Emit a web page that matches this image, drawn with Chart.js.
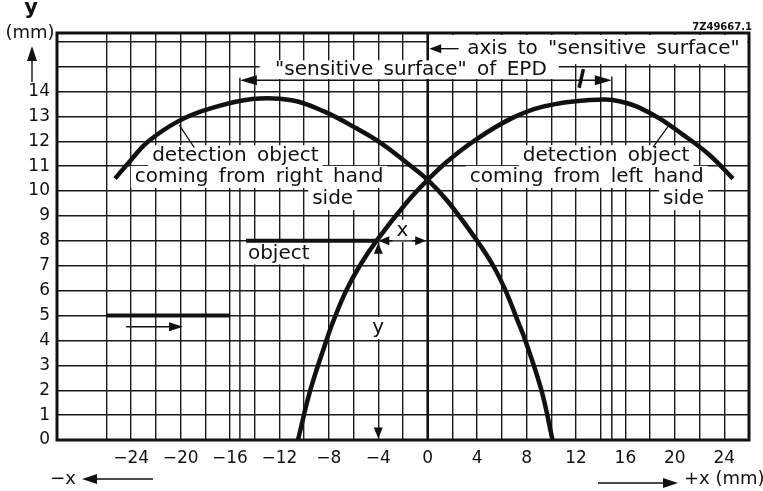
<!DOCTYPE html>
<html>
<head>
<meta charset="utf-8">
<script src="https://cdn.jsdelivr.net/npm/chart.js@4/dist/chart.umd.min.js"></script>
<style>
  html, body { margin: 0; padding: 0; background: #fff; }
  #c { display: block; }
</style>
</head>
<body>
<canvas id="c" width="763" height="491"></canvas>
<script>
// Detection curve for an object coming from the right hand side (x, y in mm)
const fromRightX = [-25.3, -24.1, -22.6, -20.2, -17.7, -14.2, -11.0, -8.4, -5.7, -3.7, -1.6, 0, 1.6, 4.0, 5.3, 6.3, 7.35, 7.9, 9.2, 10.1];
const fromRightY = [10.5, 11.2, 12.0, 12.8, 13.3, 13.7, 13.65, 13.2, 12.5, 11.9, 11.1, 10.45, 9.6, 8.0, 7.0, 6.0, 4.7, 4.0, 2.0, 0];

// Detection curve for an object coming from the left hand side (x, y in mm)
const fromLeftX = [-10.5, -9.5, -8.2, -7.7, -6.6, -5.5, -4.15, -1.6, 0, 1.6, 3.7, 6.7, 9.4, 12.9, 15.6, 18.3, 20.7, 22.8, 24.7];
const fromLeftY = [0, 2.0, 4.0, 4.7, 6.0, 7.0, 8.0, 9.6, 10.45, 11.2, 12.0, 12.9, 13.4, 13.65, 13.6, 13.05, 12.25, 11.45, 10.5];

// Objects (horizontal bars) at their height y
const objectX = [-14.7, -4.15];
const objectY = [8, 8];
const approachX = [-26, -16];
const approachY = [5, 5];

// Extent of the "sensitive surface" of the EPD
const sensitiveSurfaceX = [-15.2, 14.9];

// Axes: grid positions and labelled ticks
const xGridValues = [-26, -24, -22, -20, -18, -16, -14, -12, -10, -8, -6, -4, -2, 0, 2, 4, 6, 8, 10, 12, 14, 16, 18, 20, 22, 24];
const xTickLabels = [-24, -20, -16, -12, -8, -4, 0, 4, 8, 12, 16, 20, 24];
const yGridValues = [0, 1, 2, 3, 4, 5, 6, 7, 8, 9, 10, 11, 12, 13, 14, 15, 16];
const yTickLabels = [0, 1, 2, 3, 4, 5, 6, 7, 8, 9, 10, 11, 12, 13, 14];

const FONT = '"DejaVu Sans", "Liberation Sans", sans-serif';
const INK = '#111';

const pts = (xs, ys) => xs.map((x, i) => ({ x, y: ys[i] }));
const fmtX = v => (v < 0 ? '\u2212' + Math.abs(v) : String(v));

function seg(ctx, x1, y1, x2, y2, w) {
  ctx.beginPath();
  ctx.lineWidth = w;
  ctx.moveTo(x1, y1);
  ctx.lineTo(x2, y2);
  ctx.stroke();
}

function head(ctx, tx, ty, ang, len, half) {
  len = len || 13; half = half || 4.5;
  const c = Math.cos(ang), s = Math.sin(ang);
  ctx.beginPath();
  ctx.moveTo(tx, ty);
  ctx.lineTo(tx - len * c - half * s, ty - len * s + half * c);
  ctx.lineTo(tx - len * c + half * s, ty - len * s - half * c);
  ctx.closePath();
  ctx.fill();
}

function boxedText(ctx, text, x, y, size, align) {
  ctx.font = size + 'px ' + FONT;
  ctx.textBaseline = 'middle';
  ctx.textAlign = align || 'left';
  const w = ctx.measureText(text).width;
  let left = x;
  if (align === 'center') left = x - w / 2;
  ctx.fillStyle = '#fff';
  ctx.fillRect(left - 4, y - size * 0.55, w + 8, size * 1.1);
  ctx.fillStyle = INK;
  ctx.fillText(text, x, y);
}

const annotations = {
  id: 'annotations',
  beforeDatasetsDraw(chart) {
    const { ctx, chartArea: a, scales: { x, y } } = chart;
    const X = v => x.getPixelForValue(v), Y = v => y.getPixelForValue(v);
    ctx.save();
    ctx.strokeStyle = INK;
    ctx.fillStyle = INK;
    ctx.wordSpacing = '4px';

    // axis to the sensitive surface
    seg(ctx, X(0), a.top, X(0), a.bottom, 2.6);
    // edges of the sensitive surface
    seg(ctx, X(sensitiveSurfaceX[0]), Y(14.55), X(sensitiveSurfaceX[0]), a.bottom, 1.4);
    seg(ctx, X(sensitiveSurfaceX[1]), Y(14.6), X(sensitiveSurfaceX[1]), a.bottom, 1.4);

    // header strip for the axis caption
    ctx.fillStyle = '#fff';
    ctx.fillRect(X(0) + 1.5, a.top + 2, a.right - X(0) - 3, Y(15.1) - a.top - 2);
    // strip behind the sensitive-surface caption
    ctx.fillRect(X(-13.6), Y(15.25), X(10.6) - X(-13.6), Y(14.5) - Y(15.25));
    ctx.fillStyle = INK;

    ctx.font = '20px ' + FONT;
    ctx.textBaseline = 'middle';
    ctx.textAlign = 'left';
    ctx.fillText('axis to "sensitive surface"', X(3.2), Y(15.72));
    ctx.fillText('"sensitive surface" of EPD', X(-12.35), Y(14.88));

    // curve captions
    boxedText(ctx, 'detection object', X(-22.3), Y(11.4), 20);
    boxedText(ctx, 'coming from right hand', X(-23.7), Y(10.57), 20);
    boxedText(ctx, 'side', X(-9.35), Y(9.68), 20);
    boxedText(ctx, 'detection object', X(7.7), Y(11.4), 20);
    boxedText(ctx, 'coming from left hand', X(3.4), Y(10.57), 20);
    boxedText(ctx, 'side', X(19.05), Y(9.68), 20);

    boxedText(ctx, 'object', X(-14.55), Y(7.5), 20);
    boxedText(ctx, 'x', X(-2.05), Y(8.4), 20, 'center');
    boxedText(ctx, 'y', X(-4.0), Y(4.5), 20, 'center');
    ctx.restore();
  },
  afterDatasetsDraw(chart) {
    const { ctx, chartArea: a, scales: { x, y } } = chart;
    const X = v => x.getPixelForValue(v), Y = v => y.getPixelForValue(v);
    ctx.save();
    ctx.strokeStyle = INK;
    ctx.fillStyle = INK;

    // plot frame
    ctx.lineWidth = 3;
    ctx.strokeRect(a.left, a.top, a.right - a.left, a.bottom - a.top);

    // extent of the sensitive surface
    const ys = Y(14.45);
    seg(ctx, X(sensitiveSurfaceX[0]) + 6, ys, X(sensitiveSurfaceX[1]) - 6, ys, 1.4);
    head(ctx, X(sensitiveSurfaceX[0]), ys, Math.PI, 17, 5);
    head(ctx, X(sensitiveSurfaceX[1]), ys, 0, 17, 5);
    // marker on the sensitive-surface line
    seg(ctx, X(12.6), Y(14.9), X(12.25), Y(14.15), 3.5);

    // arrow pointing at the axis
    const ya = Y(15.72);
    seg(ctx, X(0) + 6, ya, X(2.5), ya, 1.4);
    head(ctx, X(0) + 1.5, ya, Math.PI, 12, 4.5);

    // x dimension of the detected object
    const yx = Y(8);
    seg(ctx, X(-4.15) + 6, yx, X(0) - 6, yx, 1.4);
    head(ctx, X(-4.0), yx, Math.PI, 11, 4.5);
    head(ctx, X(0) - 1.5, yx, 0, 11, 4.5);

    // y dimension of the detected object
    head(ctx, X(-4), Y(8) + 2, -Math.PI / 2, 11, 4.5);
    head(ctx, X(-4), Y(0) - 1.5, Math.PI / 2, 11, 4.5);

    // direction of travel of the approaching object
    const yt = Y(4.55);
    seg(ctx, X(-24.4), yt, X(-20.5), yt, 1.4);
    head(ctx, X(-19.8), yt, 0, 14, 4.5);

    // leader lines from captions to curves
    seg(ctx, X(-20.1), Y(12.65), X(-18.9), Y(11.75), 1.3);
    seg(ctx, X(19.6), Y(12.7), X(18.25), Y(11.78), 1.3);
    ctx.restore();
  },
  afterDraw(chart) {
    const { ctx } = chart;
    ctx.save();
    ctx.strokeStyle = INK;
    ctx.fillStyle = INK;
    ctx.textBaseline = 'middle';
    ctx.textAlign = 'center';

    // y axis title and arrow
    ctx.font = 'bold 21px ' + FONT;
    ctx.fillText('y', 31, 9);
    ctx.font = '18px ' + FONT;
    ctx.fillText('(mm)', 30, 33);
    seg(ctx, 32, 58, 32, 82, 1.4);
    head(ctx, 32, 46, -Math.PI / 2, 15, 5);

    // x direction captions
    ctx.font = '18px ' + FONT;
    ctx.fillText('\u2212x', 63, 479);
    seg(ctx, 95, 479, 153, 479, 1.4);
    head(ctx, 82, 479, Math.PI, 15, 5);

    ctx.textAlign = 'left';
    ctx.fillText('+x (mm)', 684, 479);
    seg(ctx, 598, 483, 664, 483, 1.4);
    head(ctx, 678, 483, 0, 15, 5);

    ctx.font = 'bold 10px ' + FONT;
    ctx.textAlign = 'right';
    ctx.fillText('7Z49667.1', 752, 27);
    ctx.restore();
  }
};

const lineStyle = { showLine: true, borderColor: INK, pointRadius: 0, fill: false };

new Chart(document.getElementById('c'), {
  type: 'scatter',
  data: {
    datasets: [
      Object.assign({ label: 'coming from right hand side', data: pts(fromRightX, fromRightY), borderWidth: 4.5, tension: 0.4 }, lineStyle),
      Object.assign({ label: 'coming from left hand side', data: pts(fromLeftX, fromLeftY), borderWidth: 4.5, tension: 0.4 }, lineStyle),
      Object.assign({ label: 'object', data: pts(objectX, objectY), borderWidth: 4 }, lineStyle),
      Object.assign({ label: 'approaching object', data: pts(approachX, approachY), borderWidth: 4 }, lineStyle)
    ]
  },
  options: {
    responsive: false,
    animation: false,
    events: [],
    layout: { padding: { left: 0, right: 14, top: 33, bottom: 0 } },
    plugins: { legend: { display: false }, tooltip: { enabled: false } },
    scales: {
      x: {
        type: 'linear',
        min: -30,
        max: 26,
        afterBuildTicks: s => { s.ticks = xGridValues.map(v => ({ value: v })); },
        afterFit: s => { s.height = 51; },
        grid: { color: '#1a1a1a', lineWidth: 1.4, drawTicks: false },
        border: { display: false },
        ticks: {
          autoSkip: false, maxRotation: 0, padding: 8, color: INK,
          font: { family: FONT, size: 17 },
          callback: v => (xTickLabels.includes(v) ? fmtX(v) : '')
        }
      },
      y: {
        type: 'linear',
        min: 0,
        max: 16.35,
        afterBuildTicks: s => { s.ticks = yGridValues.map(v => ({ value: v })); },
        afterFit: s => { s.width = 57; },
        grid: { color: '#1a1a1a', lineWidth: 1.4, drawTicks: false },
        border: { display: false },
        ticks: {
          autoSkip: false, padding: 7, color: INK,
          font: { family: FONT, size: 17 },
          callback: v => (yTickLabels.includes(v) ? String(v) : '')
        }
      }
    }
  },
  plugins: [annotations]
});
</script>
</body>
</html>
